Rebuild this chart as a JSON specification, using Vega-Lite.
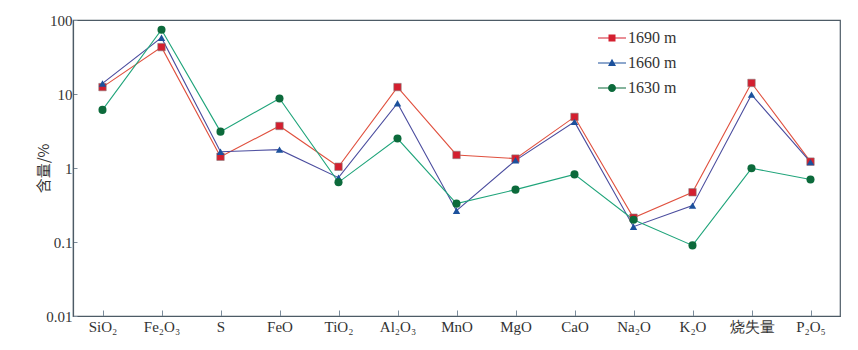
{
  "$schema": "https://vega.github.io/schema/vega-lite/v6.json",
  "autosize": {"type": "none"},
  "width": 767,
  "height": 296,
  "padding": {"left": 73, "top": 20, "right": 18, "bottom": 34},
  "background": "white",
  "config": {
    "view": {"stroke": "#4d5b66", "strokeWidth": 1.2},
    "axis": {"labelFont": "Liberation Serif", "labelFontSize": 15, "labelColor": "#333333", "domainColor": "#4d5b66", "domainWidth": 1.2, "tickColor": "#7d8d9c", "grid": false},
    "legend": {"labelFont": "Liberation Serif", "labelFontSize": 16, "labelColor": "#333333"}
  },
  "data": {"values": [
    {"oxide": "SiO₂", "depth": "1690 m", "value": 12.4},
    {"oxide": "Fe₂O₃", "depth": "1690 m", "value": 43},
    {"oxide": "S", "depth": "1690 m", "value": 1.42},
    {"oxide": "FeO", "depth": "1690 m", "value": 3.7},
    {"oxide": "TiO₂", "depth": "1690 m", "value": 1.04},
    {"oxide": "Al₂O₃", "depth": "1690 m", "value": 12.4},
    {"oxide": "MnO", "depth": "1690 m", "value": 1.5},
    {"oxide": "MgO", "depth": "1690 m", "value": 1.34},
    {"oxide": "CaO", "depth": "1690 m", "value": 4.9},
    {"oxide": "Na₂O", "depth": "1690 m", "value": 0.213},
    {"oxide": "K₂O", "depth": "1690 m", "value": 0.47},
    {"oxide": "烧失量", "depth": "1690 m", "value": 14.1},
    {"oxide": "P₂O₅", "depth": "1690 m", "value": 1.22},
    {"oxide": "SiO₂", "depth": "1660 m", "value": 13.9},
    {"oxide": "Fe₂O₃", "depth": "1660 m", "value": 57.7},
    {"oxide": "S", "depth": "1660 m", "value": 1.66},
    {"oxide": "FeO", "depth": "1660 m", "value": 1.77},
    {"oxide": "TiO₂", "depth": "1660 m", "value": 0.74},
    {"oxide": "Al₂O₃", "depth": "1660 m", "value": 7.5},
    {"oxide": "MnO", "depth": "1660 m", "value": 0.265},
    {"oxide": "MgO", "depth": "1660 m", "value": 1.27},
    {"oxide": "CaO", "depth": "1660 m", "value": 4.2},
    {"oxide": "Na₂O", "depth": "1660 m", "value": 0.161},
    {"oxide": "K₂O", "depth": "1660 m", "value": 0.31},
    {"oxide": "烧失量", "depth": "1660 m", "value": 9.8},
    {"oxide": "P₂O₅", "depth": "1660 m", "value": 1.2},
    {"oxide": "SiO₂", "depth": "1630 m", "value": 6.1},
    {"oxide": "Fe₂O₃", "depth": "1630 m", "value": 74},
    {"oxide": "S", "depth": "1630 m", "value": 3.1},
    {"oxide": "FeO", "depth": "1630 m", "value": 8.7},
    {"oxide": "TiO₂", "depth": "1630 m", "value": 0.64},
    {"oxide": "Al₂O₃", "depth": "1630 m", "value": 2.5},
    {"oxide": "MnO", "depth": "1630 m", "value": 0.33},
    {"oxide": "MgO", "depth": "1630 m", "value": 0.51},
    {"oxide": "CaO", "depth": "1630 m", "value": 0.82},
    {"oxide": "Na₂O", "depth": "1630 m", "value": 0.2},
    {"oxide": "K₂O", "depth": "1630 m", "value": 0.09},
    {"oxide": "烧失量", "depth": "1630 m", "value": 0.99},
    {"oxide": "P₂O₅", "depth": "1630 m", "value": 0.7}
  ]},
  "encoding": {
    "x": {
      "field": "oxide", "type": "nominal",
      "sort": ["SiO₂", "Fe₂O₃", "S", "FeO", "TiO₂", "Al₂O₃", "MnO", "MgO", "CaO", "Na₂O", "K₂O", "烧失量", "P₂O₅"],
      "scale": {"type": "point", "padding": 0.5},
      "axis": {"title": null, "labelAngle": 0, "tickSize": -6, "labelPadding": 9}
    },
    "y": {
      "field": "value", "type": "quantitative",
      "scale": {"type": "log", "domain": [0.01, 100], "nice": false},
      "axis": {"title": "含量/%", "values": [0.01, 0.1, 1, 10, 100], "format": "~g", "tickSize": -4, "labelPadding": 5,
        "titleFont": "Noto Sans CJK SC", "titleFontSize": 15, "titleFontWeight": "normal", "titleColor": "#333333",
        "titleX": -22, "titleY": 148}
    }
  },
  "layer": [
    {
      "transform": [{"filter": "datum.depth === '1690 m'"}],
      "mark": {"type": "line", "strokeWidth": 1.1, "stroke": "#e0503e"},
      "encoding": {}
    },
    {
      "transform": [{"filter": "datum.depth === '1660 m'"}],
      "mark": {"type": "line", "strokeWidth": 1.1, "stroke": "#4a4c9e"},
      "encoding": {}
    },
    {
      "transform": [{"filter": "datum.depth === '1630 m'"}],
      "mark": {"type": "line", "strokeWidth": 1.1, "stroke": "#1fa47a"},
      "encoding": {}
    },
    {
      "transform": [{"filter": "datum.depth === '1690 m'"}],
      "mark": {"type": "point", "filled": true, "opacity": 1, "shape": "square", "size": 55, "fill": "#d41f2f", "stroke": "#8a7a7a", "strokeWidth": 0.6},
      "encoding": {}
    },
    {
      "transform": [{"filter": "datum.depth === '1660 m'"}],
      "mark": {"type": "point", "filled": true, "opacity": 1, "shape": "triangle-up", "size": 55, "fill": "#1c519c", "strokeWidth": 0},
      "encoding": {}
    },
    {
      "transform": [{"filter": "datum.depth === '1630 m'"}],
      "mark": {"type": "point", "filled": true, "opacity": 1, "shape": "circle", "size": 65, "fill": "#0c6a3b", "strokeWidth": 0},
      "encoding": {}
    },
    {
      "mark": {"type": "point", "filled": true, "opacity": 0},
      "encoding": {
        "color": {"field": "depth", "type": "nominal",
          "scale": {"domain": ["1690 m", "1660 m", "1630 m"], "range": ["#d41f2f", "#1c519c", "#0c6a3b"]},
          "legend": {"title": null, "orient": "none", "legendX": 529, "legendY": 8, "padding": 0,
            "symbolSize": 400, "rowPadding": 7, "labelOffset": 6, "symbolStrokeWidth": 0, "symbolOpacity": 1}},
        "shape": {"field": "depth", "type": "nominal",
          "scale": {"domain": ["1690 m", "1660 m", "1630 m"], "range": [
            "M-1.4,-0.05H1.4V0.05H-1.4Z M-0.35,-0.35H0.35V0.35H-0.35Z",
            "M-1.4,-0.05H1.4V0.05H-1.4Z M0,-0.42L0.4,0.3L-0.4,0.3Z",
            "M-1.4,-0.05H1.4V0.05H-1.4Z M0.4,0A0.4,0.4 0 1,1 -0.4,0A0.4,0.4 0 1,1 0.4,0Z"
          ]},
          "legend": {"title": null, "orient": "none", "legendX": 529, "legendY": 8, "padding": 0,
            "symbolSize": 400, "rowPadding": 7, "labelOffset": 6, "symbolStrokeWidth": 0, "symbolOpacity": 1}
        }
      }
    }
  ]
}
